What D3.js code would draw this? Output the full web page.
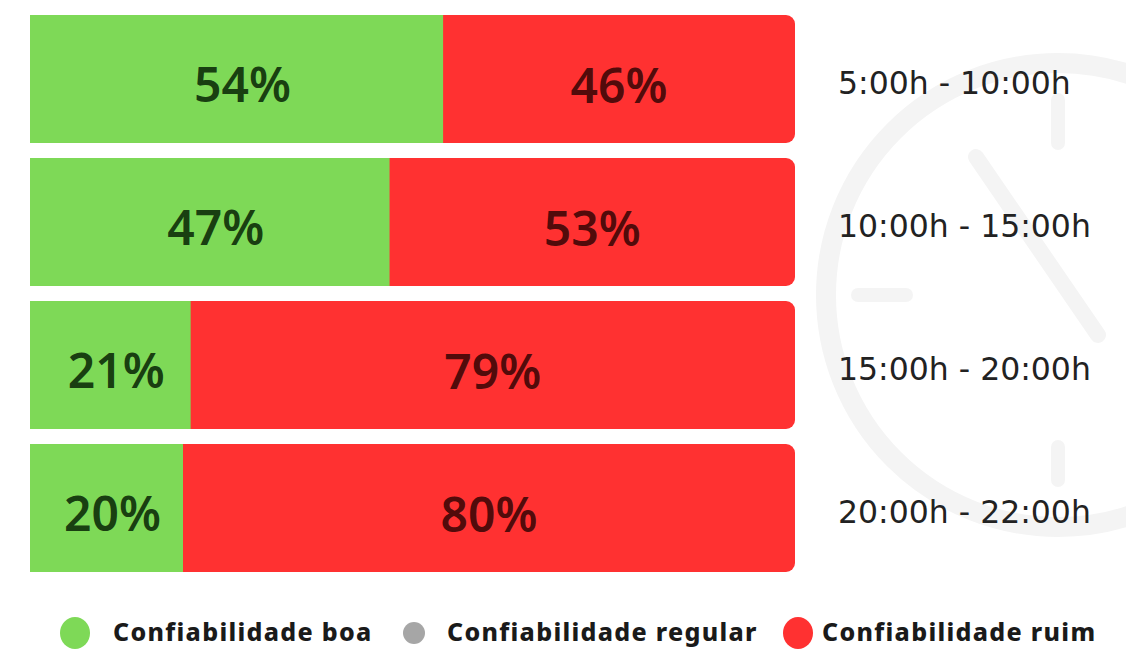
<!DOCTYPE html>
<html><head><meta charset="utf-8">
<script src="https://cdn.jsdelivr.net/npm/d3@7/dist/d3.min.js"></script>
<style>html,body{margin:0;padding:0;background:#fff;}svg{display:block;}</style>
</head><body>
<svg id="chart" width="1126" height="649"></svg>
<script>
const periods = ["5:00h - 10:00h","10:00h - 15:00h","15:00h - 20:00h","20:00h - 22:00h"];
const boa = [54, 47, 21, 20];
const ruim = [46, 53, 79, 80];
const legendLabels = ["Confiabilidade boa","Confiabilidade regular","Confiabilidade ruim"];
const legendColors = ["#7ed957","#a6a6a6","#ff3131"];

const svg = d3.select("#chart");
const GREEN = "#7ed957", RED = "#ff3131";

// watermark clock
const wm = svg.append("g").attr("fill","none").attr("stroke","#f4f4f4").attr("stroke-linecap","round");
const cx = 1058, cy = 295;
wm.append("circle").attr("cx",cx).attr("cy",cy).attr("r",232).attr("stroke-width",20);
[[0,-152,0,-195],[0,152,0,185],[-152,0,-200,0]].forEach(t=>{
  wm.append("line").attr("x1",cx+t[0]).attr("y1",cy+t[1]).attr("x2",cx+t[2]).attr("y2",cy+t[3]).attr("stroke-width",14);
});
wm.append("line").attr("x1",cx-82).attr("y1",cy-138).attr("x2",cx+40).attr("y2",cy+40).attr("stroke-width",16);

const x = d3.scaleLinear().domain([0,100]).range([30,795]);
const y = d3.scaleBand().domain(periods).range([15,572]).paddingInner(0.105).paddingOuter(0);

const rows = svg.append("g").selectAll("g").data(periods).join("g")
  .attr("transform", d => `translate(0,${y(d)})`);

rows.append("rect").attr("x", x(0)).attr("y",0)
  .attr("width", x(100)-x(0)).attr("height", y.bandwidth()).attr("rx",9).attr("fill",RED);
rows.append("rect").attr("x", x(0)).attr("y",0)
  .attr("width",(d,i)=>x(boa[i])-x(0)).attr("height", y.bandwidth()).attr("fill",GREEN);

const lblFont = "'Noto Sans', sans-serif";
rows.append("text")
  .attr("x",(d,i)=>(x(0)+x(boa[i]))/2 + 6)
  .attr("y", y.bandwidth()/2 + 5)
  .attr("text-anchor","middle").attr("dominant-baseline","central")
  .attr("font-family",lblFont).attr("font-weight",600).attr("font-size",48)
  .attr("fill","#0b2a08").attr("fill-opacity",0.9)
  .text((d,i)=>boa[i]+"%");
rows.append("text")
  .attr("x",(d,i)=>(x(boa[i])+x(100))/2)
  .attr("y", y.bandwidth()/2 + 6)
  .attr("text-anchor","middle").attr("dominant-baseline","central")
  .attr("font-family",lblFont).attr("font-weight",600).attr("font-size",48)
  .attr("fill","#3a0606").attr("fill-opacity",0.9)
  .text((d,i)=>ruim[i]+"%");

rows.append("text")
  .attr("x", 838)
  .attr("y", y.bandwidth()/2 + 4)
  .attr("dominant-baseline","central")
  .attr("font-family","'DejaVu Sans', sans-serif").attr("font-size",31.5)
  .attr("fill","#222")
  .text(d=>d);

// legend
const legX = [75, 414, 798];
const legTextDx = [38, 33, 24];
const lg = svg.append("g").selectAll("g").data(legendLabels).join("g")
  .attr("transform",(d,i)=>`translate(${legX[i]},633)`);
lg.append("ellipse").attr("cx",0).attr("cy",0)
  .attr("rx",(d,i)=>i===1?11:15).attr("ry",(d,i)=>i===1?11:16)
  .attr("fill",(d,i)=>legendColors[i]);
lg.append("text").attr("x",(d,i)=>legTextDx[i]).attr("y",8)
  .attr("font-family","'Noto Sans', sans-serif").attr("font-weight",800).attr("font-size",25)
  .attr("letter-spacing",1.3)
  .attr("fill","#1a1a1a")
  .text(d=>d);
</script>
</body></html>
